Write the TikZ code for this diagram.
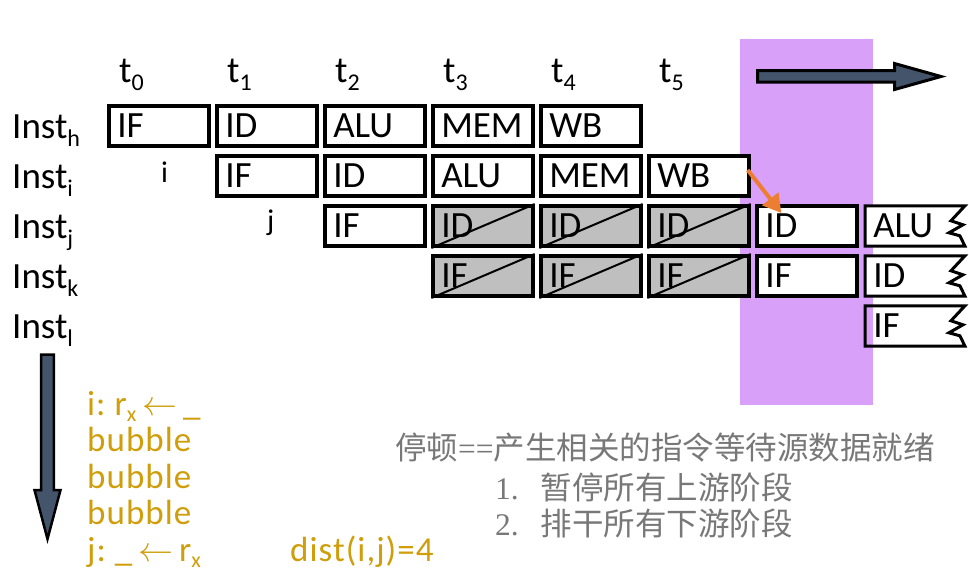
\RequirePackage{fix-cm}
\documentclass[tikz,border=0pt]{standalone}
\usepackage{fontspec}
\setmainfont{Carlito}
\newfontfamily\cjkfont{Noto Sans CJK SC}
\newfontfamily\numfont{Liberation Serif}
\newfontfamily\goldfont{Carlito}[LetterSpace=3]
\usetikzlibrary{arrows.meta,calc}
\pgfdeclarelayer{bg}
\pgfsetlayers{bg,main}
\definecolor{purp}{RGB}{217,160,250}
\definecolor{slate}{RGB}{68,84,106}
\definecolor{stallgray}{RGB}{191,191,191}
\definecolor{orng}{RGB}{237,125,49}
\definecolor{goldc}{RGB}{207,158,10}
\definecolor{cjkgray}{RGB}{120,120,120}
\newcommand{\fsz}[1]{\fontsize{#1}{#1}\selectfont}
\newcommand{\lsub}[1]{\raisebox{-8pt}{\fsz{24}#1}}
\newcommand{\gsub}[1]{\raisebox{-6pt}{\fsz{22}#1}}
\tikzset{
  stagebox/.style={draw, line width=4pt, fill=white, minimum width=99.4pt, minimum height=40pt,
    inner xsep=8pt, inner ysep=0pt, text width=83.4pt, align=left, font=\fsz{37}},
  stallbox/.style={stagebox, fill=stallgray},
  tornbox/.style={minimum width=99.5pt, minimum height=40pt, inner xsep=8pt, inner ysep=0pt,
    text width=83.5pt, align=left, font=\fsz{37}},
  tornline/.style={line width=3pt, line join=miter},
  lbl/.style={anchor=base west, inner sep=0pt, font=\fsz{37}},
  goldtxt/.style={anchor=base west, inner sep=0pt, text=goldc, font=\goldfont\fontsize{35}{36.5}\selectfont},
  cjkline/.style={anchor=base west, inner sep=0pt, text=cjkgray, font=\cjkfont\fsz{31.5}},
  bigarrow/.style={fill=slate, draw=black, line join=miter},
  hazard/.style={orng, line width=4pt, -{Triangle[length=18pt,width=20pt]}}
}
\begin{document}
\begin{tikzpicture}[x=1pt,y=-1pt]
\useasboundingbox (0,0) rectangle (969,579);
\begin{pgfonlayer}{bg}
\fill[purp] (740,39) rectangle (873,405);
\end{pgfonlayer}

% time labels
\foreach \k in {0,...,5} \node[lbl] (t\k) at ({119+108*\k},82) {t\lsub{\k}};

% instruction labels
\node[lbl] (insth) at (12,138) {Inst\lsub{h}};
\node[lbl] (insti) at (12,188) {Inst\lsub{i}};
\node[lbl] (instj) at (12,238) {Inst\lsub{j}};
\node[lbl] (instk) at (12,288) {Inst\lsub{k}};
\node[lbl] (instl) at (12,338) {Inst\lsub{l}};
\node[lbl, font=\fsz{30}] (ilbl) at (161,182) {i};
\node[lbl, font=\fsz{30}] (jlbl) at (267,230) {j};

% pipeline stages
\node[stagebox] (h0) at (159,126) {IF};
\node[stagebox] (h1) at (267,126) {ID};
\node[stagebox] (h2) at (375,126) {ALU};
\node[stagebox] (h3) at (483,126) {MEM};
\node[stagebox] (h4) at (591,126) {WB};
\node[stagebox] (i1) at (267,176) {IF};
\node[stagebox] (i2) at (375,176) {ID};
\node[stagebox] (i3) at (483,176) {ALU};
\node[stagebox] (i4) at (591,176) {MEM};
\node[stagebox] (i5) at (699,176) {WB};
\node[stagebox] (j2) at (375,226) {IF};
\node[stallbox] (j3) at (483,226) {ID};
\node[stallbox] (j4) at (591,226) {ID};
\node[stallbox] (j5) at (699,226) {ID};
\node[stagebox] (j6) at (807,226) {ID};
\node[tornbox] (j7) at (915,226) {ALU};
\node[stallbox] (k3) at (483,276) {IF};
\node[stallbox] (k4) at (591,276) {IF};
\node[stallbox] (k5) at (699,276) {IF};
\node[stagebox] (k6) at (807,276) {IF};
\node[tornbox] (k7) at (915,276) {ID};
\node[tornbox] (l7) at (915,326) {IF};

\foreach \n in {j3,j4,j5,k3,k4,k5} \draw[line width=2pt] (\n.south west) -- (\n.north east);

\begin{pgfonlayer}{bg}
\foreach \n/\f in {j7/white,k7/white,l7/none}
  \draw[tornline, fill=\f] (\n.north west) -- (\n.north east) -- ++(-14,15) -- ++(12,4)
    -- ++(-14,8) -- ++(11,3) -- (\n.south east) -- (\n.south west) -- cycle;
\end{pgfonlayer}

% forwarding-wait arrow
\draw[hazard] ($(i5.north east)+(-3,16)$) -- ($(j6.north west)+(26,9)$);

% big arrows
\draw[bigarrow, line width=3pt] (757.5,70.5) -- (894.5,70.5) -- (894.5,63.5) -- (941,76.5)
  -- (894.5,89.5) -- (894.5,82) -- (757.5,82) -- cycle;
\draw[bigarrow, line width=2.5pt] (41.2,354.5) -- (53.8,354.5) -- (53.8,490) -- (60.5,490)
  -- (47.5,539) -- (34.5,490) -- (41.2,490) -- cycle;

% gold program text (anchored on the baseline of its last line)
\node[goldtxt, align=left] (prog) at (87,561) {i:~r\gsub{x}\,$\leftarrow$\,\_\\
  bubble\\ bubble\\ bubble\\
  j:~\_\,$\leftarrow$\,r\gsub{x}};
\node[goldtxt] (dist) at (290,561) {dist(i,j)=4};

% Chinese notes
\node[cjkline] (c1) at (395,459) {停顿{\numfont ==}产生相关的指令等待源数据就绪};
\node[cjkline] (c2) at (495,499) {{\numfont 1.}\hspace{22pt}暂停所有上游阶段};
\node[cjkline] (c3) at (495,535) {{\numfont 2.}\hspace{22pt}排干所有下游阶段};
\end{tikzpicture}
\end{document}
